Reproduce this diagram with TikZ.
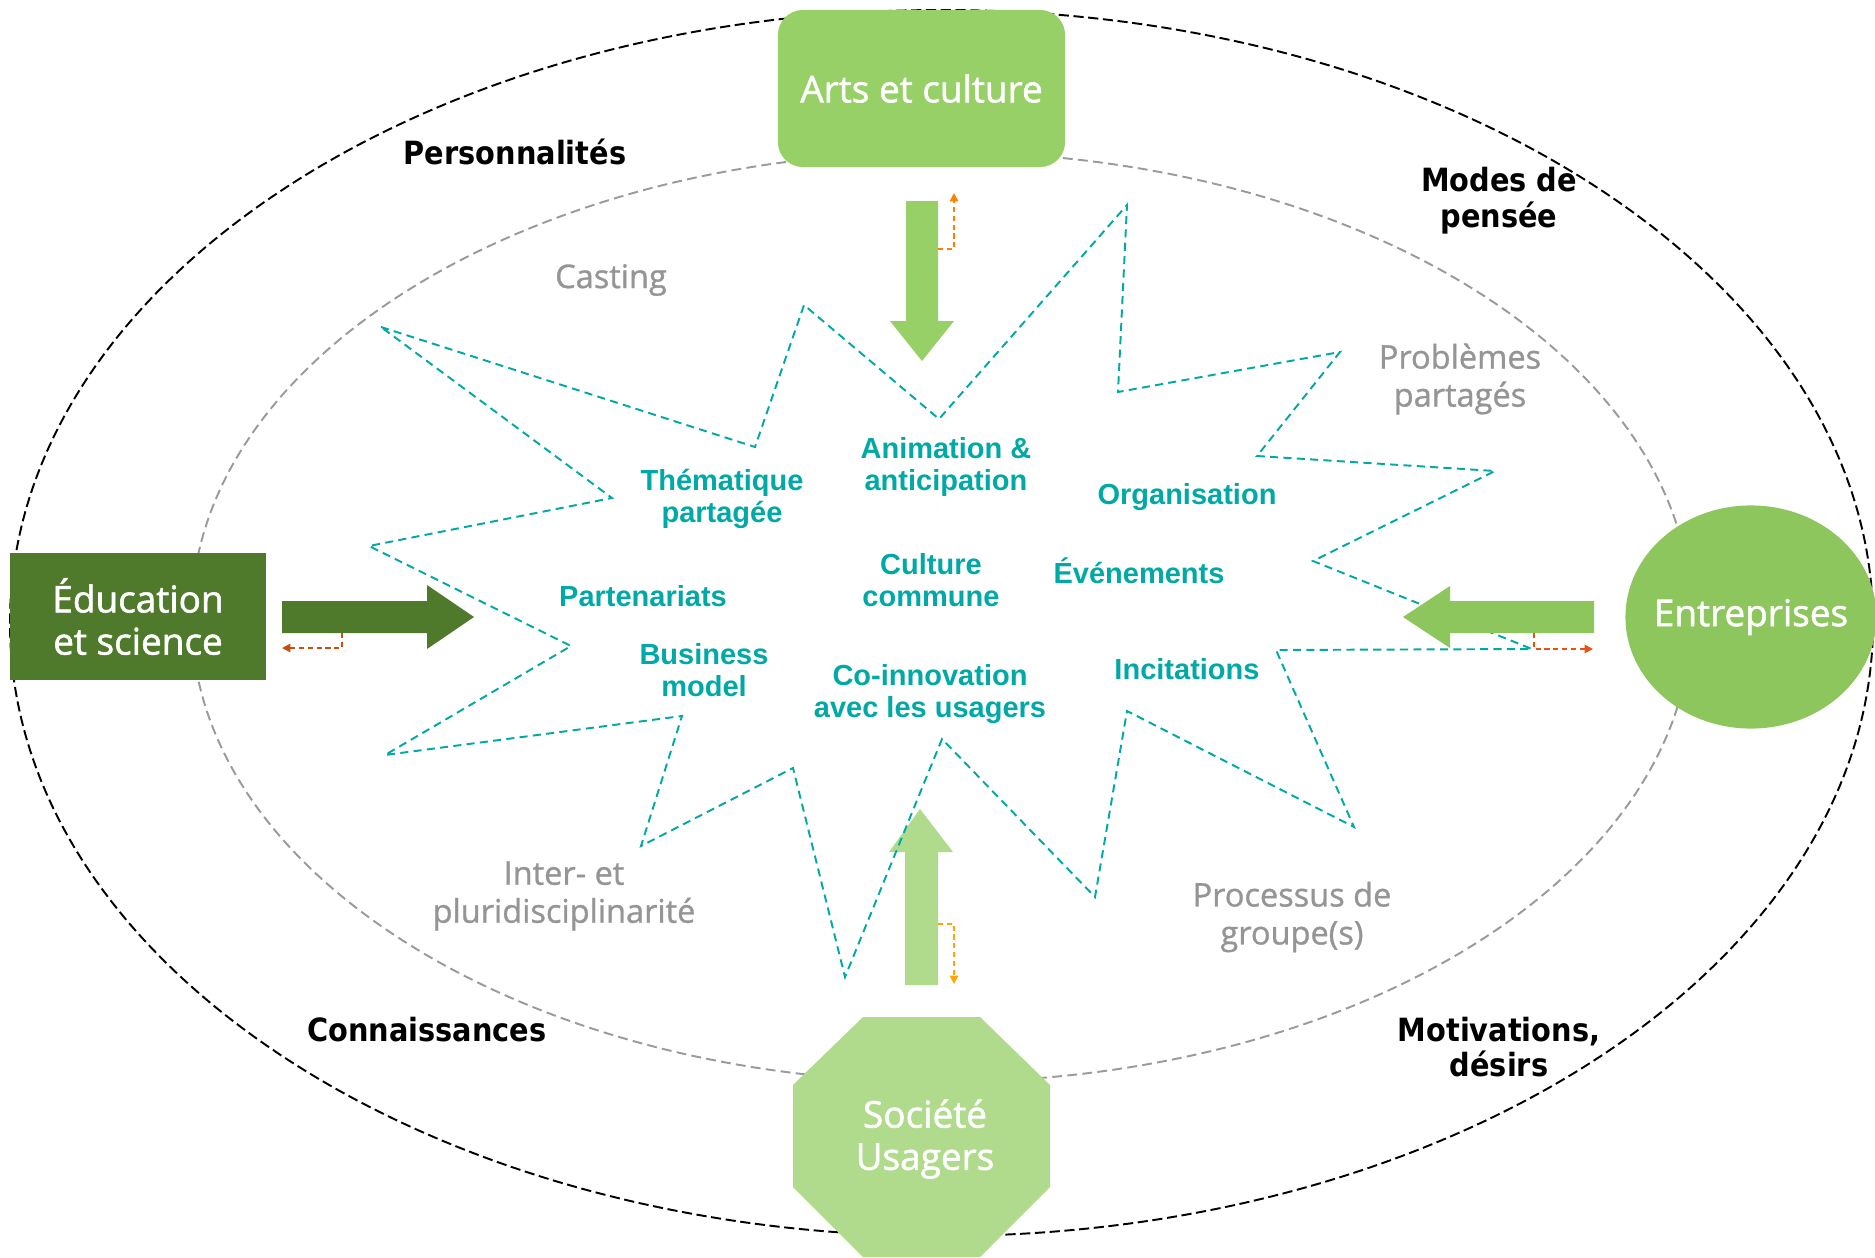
\documentclass[tikz,border=0pt]{standalone}
\usepackage{fontspec}
\setmainfont{Open Sans}
\newfontfamily\boxfont[FakeBold=1.5]{Open Sans}
\newfontfamily\grayfont[FakeBold=1]{Open Sans}
\newfontfamily\tealfont{Liberation Sans}
\newfontfamily\blackfont[FakeStretch=0.9]{DejaVu Sans}
\usepackage{tikz}
\usetikzlibrary{shapes.geometric,arrows.meta}

\definecolor{artsgreen}{HTML}{96D066}
\definecolor{edugreen}{HTML}{507A2B}
\definecolor{entgreen}{HTML}{8CC65C}
\definecolor{socgreen}{HTML}{B0DB8C}
\definecolor{themeteal}{HTML}{00A8A6}
\definecolor{labelgray}{HTML}{959595}
\definecolor{dashgray}{HTML}{9A9A9A}
\definecolor{topfb}{HTML}{FF8000}
\definecolor{leftfb}{HTML}{C5500E}
\definecolor{rightfb}{HTML}{E55314}
\definecolor{botfb}{HTML}{FFA500}

\begin{document}
\begin{tikzpicture}[x=0.01cm, y=-0.01cm,
  box/.style={inner sep=0pt, text=white, align=center, font=\boxfont\fontsize{10.5}{12}\selectfont},
  theme/.style={inner sep=0pt, align=center, text=themeteal, font=\tealfont\bfseries\fontsize{8.25}{9.1}\selectfont},
  factor/.style={inner sep=0pt, align=center, text=labelgray, font=\grayfont\fontsize{9.25}{10.8}\selectfont},
  driver/.style={inner sep=0pt, align=center, text=black, font=\blackfont\bfseries\fontsize{9.1}{10.2}\selectfont},
  outerline/.style={black, line width=0.55pt, dash pattern=on 2.9pt off 1.3pt},
  innerline/.style={dashgray, line width=0.55pt, dash pattern=on 2.8pt off 1.5pt},
  starline/.style={themeteal, line width=0.55pt, dash pattern=on 2.3pt off 1.5pt},
  feedback/.style={line width=0.5pt, dash pattern=on 1.5pt off 1pt, -{Triangle[length=2.4pt,width=2.4pt]}}]
\useasboundingbox (0,0) rectangle (1875,1257);

% the two dashed rings
\draw[outerline] (941.5,623) ellipse [x radius=931.5, y radius=613];
\draw[innerline] (941.5,617) ellipse [x radius=750, y radius=465];

% arrow from below
\fill[socgreen] (905,985) -- (905,852) -- (889,852) -- (920,809) -- (953,852) -- (938,852) -- (938,985) -- cycle;

% star
\draw[starline] (381,327) -- (755,447) -- (804,305) -- (939,419) -- (1127,205) -- (1118,392)
  -- (1340,352) -- (1257,456) -- (1495,471) -- (1313,561) -- (1532,649) -- (1276,650)
  -- (1354,827) -- (1127,711) -- (1095,897) -- (942,739) -- (845,977) -- (793,768)
  -- (641,846) -- (682,716) -- (385,755) -- (571,646) -- (369,546) -- (612,498) -- cycle;

% other big arrows
\fill[artsgreen] (906,201) -- (938,201) -- (938,321) -- (954,321) -- (922,361) -- (890,321) -- (906,321) -- cycle;
\fill[edugreen] (282,601) -- (427,601) -- (427,585) -- (474,617) -- (427,649) -- (427,633) -- (282,633) -- cycle;
\fill[entgreen] (1594,601) -- (1450,601) -- (1450,586) -- (1403,617) -- (1450,648) -- (1450,633) -- (1594,633) -- cycle;

% small return arrows
\draw
(938,249) coordinate(ts) (954,193) coordinate(te)
(342,633) coordinate(ls) (282,648) coordinate(le)
(1534,633) coordinate(rs) (1593,649) coordinate(re)
(938,924) coordinate(bs) (954,984) coordinate(be);
\draw[feedback, topfb] (ts) -| (te);
\draw[feedback, leftfb] (ls) |- (le);
\draw[feedback, rightfb] (rs) |- (re);
\draw[feedback, botfb] (bs) -| (be);

% actors
\node[box, fill=artsgreen, rounded corners=0.25cm, minimum width=2.87cm, minimum height=1.57cm] (arts) at (921.5,88.5) {Arts et culture};
\node[box, fill=edugreen, minimum width=2.56cm, minimum height=1.27cm] (edu) at (138,616.5) {Éducation\\et science};
\node[ellipse, fill=entgreen, inner sep=0pt, minimum width=2.51cm, minimum height=2.23cm,
  label={[box]center:Entreprises}] (ent) at (1751,617) {};
\fill[socgreen] (863,1017) -- (980,1017) -- (1050,1085) -- (1050,1187) -- (980,1257)
  -- (863,1257) -- (793,1187) -- (793,1085) -- cycle;
\node[box] (soc) at (925,1139) {Société\\Usagers};

% labels
\draw
(946,467) node[theme](anim){Animation \&\\anticipation}
(722,499) node[theme](them){Thématique\\partagée}
(1187,497) node[theme](orga){Organisation}
(931,580) node[theme](cult){Culture\\commune}
(1139,571) node[theme](even){Événements}
(643,596) node[theme](part){Partenariats}
(704,670) node[theme](busi){Business\\model}
(930,694) node[theme](coin){Co-innovation\\avec les usagers}
(1187,669) node[theme](inci){Incitations};

\draw
(611,280) node[factor](cast){Casting}
(1460,379) node[factor](prob){Problèmes\\partagés}
(564,896) node[factor](inte){Inter- et\\pluridisciplinarité}
(1292,917) node[factor](proc){Processus de\\groupe(s)};

\draw
(515,152) node[driver](pers){Personnalités}
(1499,201) node[driver](mode){Modes de\\pensée}
(427,1030) node[driver](conn){Connaissances}
(1499,1047) node[driver](moti){Motivations,\\désirs};

\end{tikzpicture}
\end{document}
